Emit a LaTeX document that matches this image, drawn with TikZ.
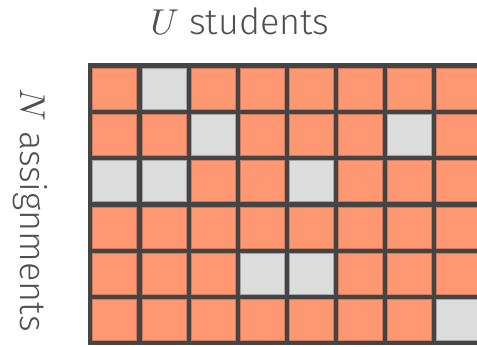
\documentclass[tikz,border=0pt]{standalone}
\usepackage{fontspec}
\setsansfont{Fira Sans Light}
\DeclareFontShape{OML}{cmm}{m}{it}{<-> cmmi10}{\skewchar\font'177}
\usetikzlibrary{positioning,calc}
\definecolor{CellOrange}{RGB}{255,152,114}
\definecolor{CellGray}{RGB}{220,220,220}
\definecolor{GridDark}{RGB}{68,68,68}
\definecolor{InkGray}{RGB}{80,80,80}
\tikzset{
  cell0/.style={draw=CellOrange!80!black,line width=0.6pt,fill=CellOrange,
    minimum width=44pt,minimum height=41pt,inner sep=0pt},
  cell1/.style={cell0,draw=CellGray!75!black,fill=CellGray},
  lbl/.style={text=InkGray,font=\sffamily\fontsize{36}{40}\selectfont,inner sep=0pt},
}
\begin{document}
\begin{tikzpicture}[x=1pt,y=-1pt]
\useasboundingbox (0,0) rectangle (477,347);
\clip (0,0) rectangle (477,347);
\fill[GridDark] (88,63) rectangle (490,345.3);
\foreach \r/\row in {1/{0,1,0,0,0,0,0,0},2/{0,0,1,0,0,0,1,0},3/{1,1,0,0,1,0,0,0},
  4/{0,0,0,0,0,0,0,0},5/{0,0,0,1,1,0,0,0},6/{0,0,0,0,0,0,0,1}}
  \foreach \v [count=\c] in \row
    \node[cell\v] (c\r\c) at ({114.7+49.1*(\c-1)},{88.8+46.2*(\r-1)}) {};
\node[lbl,anchor=base] (students) at (240,35) {$U$ students};
\node[lbl,anchor=base,rotate=-90] (assign) at (20,210) {$N$ assignments};
\end{tikzpicture}
\end{document}
